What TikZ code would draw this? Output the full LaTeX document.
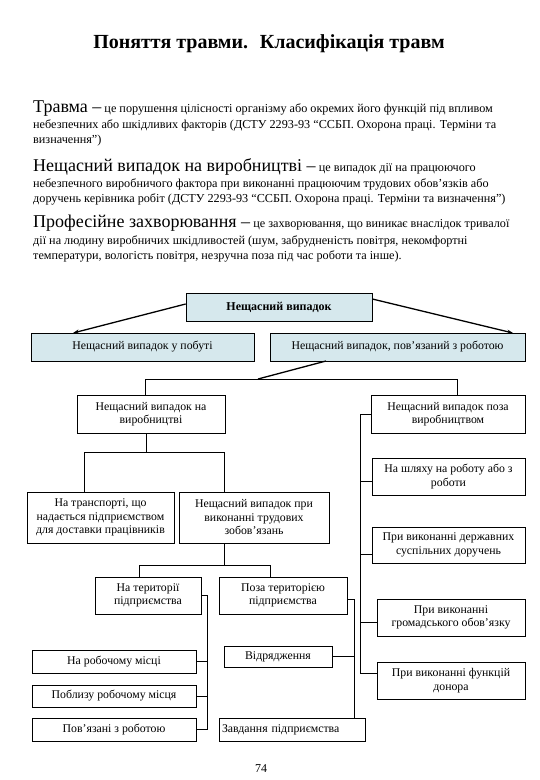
\documentclass[tikz,border=0pt]{standalone}
\usepackage{fontspec}
\setmainfont{Liberation Serif}
\usepackage{xcolor}
\usetikzlibrary{arrows.meta}
\usetikzlibrary{positioning}
\usetikzlibrary{calc}
\definecolor{boxblue}{RGB}{214,232,237}
\newcommand{\bigterm}[1]{{\fontsize{18}{20}\selectfont #1}}

\begin{document}
\begin{tikzpicture}[x=1pt,y=-1pt,>=Stealth,
		box/.style={draw, line width=0.7pt, align=center, inner sep=1pt, font=\fontsize{11.8}{13.5}\selectfont},
		bluebox/.style={box, fill=boxblue},
		conn/.style={line width=0.7pt},
		arr/.style={->, line width=1.3pt, >={Stealth[length=6pt,width=4pt]}},
		bodytext/.style={anchor=base west, inner sep=0pt, font=\fontsize{12.2}{14}\selectfont}]
				\useasboundingbox (0,0) rectangle (540,780);
				
				% title
				\node[anchor=base, inner sep=0pt, font=\fontsize{20}{22}\selectfont\bfseries] (title) at (269,48) {Поняття травми. \ Класифікація травм};
				
				% definitions
				\node[bodytext] (p1a) at (33,112) {\bigterm{Травма –} це порушення цілісності організму або окремих його функцій під впливом};
				\node[bodytext] (p1b) at (33,128) {небезпечних або шкідливих факторів (ДСТУ 2293-93 “ССБП. Охорона праці. Терміни та};
				\node[bodytext] (p1c) at (33,143) {визначення”)};
				\node[bodytext] (p2a) at (33,171) {\bigterm{Нещасний випадок на виробництві –} це випадок дії на працюючого};
				\node[bodytext] (p2b) at (33,187) {небезпечного виробничого фактора при виконанні працюючим трудових обов'язків або};
				\node[bodytext] (p2c) at (33,202) {доручень керівника робіт (ДСТУ 2293-93 “ССБП. Охорона праці. Терміни та визначення”)};
				\node[bodytext] (p3a) at (33,227) {\bigterm{Професійне захворювання –} це захворювання, що виникає внаслідок тривалої};
				\node[bodytext] (p3b) at (33,244) {дії на людину виробничих шкідливостей (шум, забрудненість повітря, некомфортні};
				\node[bodytext] (p3c) at (33,259) {температури, вологість повітря, незручна поза під час роботи та інше).};
				
				% top boxes
				\node[bluebox, minimum width=186pt, minimum height=28pt, font=\fontsize{12}{14}\selectfont\bfseries] (nv) at (279,307) {Нещасний випадок};
				\node[bluebox, minimum width=223pt, minimum height=28pt] (pobut) at (142.5,347) {Нещасний випадок у побуті};
				\node[bluebox, minimum width=255pt, minimum height=28pt] (robota) at (397.5,347) {Нещасний випадок, пов’язаний з роботою};
				\coordinate (pobutin) at (73,333);
				\coordinate (robotain) at (513,333);
				\draw[arr] ([yshift=3pt]nv.west) -- (pobutin);
				\draw[arr] ([yshift=8pt]nv.east) -- (robotain);
				
				% at work / outside work
				\node[box, minimum width=148pt, minimum height=38pt] (vyrob) at (151,414) {Нещасний випадок на\\виробництві};
				\node[box, minimum width=154pt, minimum height=38pt] (pozavyrob) at (448,414) {Нещасний випадок поза\\виробництвом};
				\coordinate (robotaout) at (326,361);
				\coordinate (j1) at (258,379);
				\coordinate (v1) at (145,379);
				\coordinate (v2) at (457,379);
				\draw[line width=1.3pt] (robotaout) -- (j1);
				\draw[conn] (v1 |- vyrob.north) -- (v1) -- (v2) -- (v2 |- pozavyrob.north);
				
				% outside work column
				\node[box, minimum width=153pt, minimum height=37pt] (shlyakh) at (448.5,476.5) {На шляху на роботу або з\\роботи};
				\node[box, minimum width=153pt, minimum height=36pt] (derzh) at (448.5,545) {При виконанні державних\\суспільних доручень};
				\node[box, minimum width=148pt, minimum height=37pt] (hromad) at (451,617.5) {При виконанні\\громадського обов'язку};
				\node[box, minimum width=148pt, minimum height=37pt] (donor) at (451,680.5) {При виконанні функцій\\донора};
				\coordinate (r1) at (360,0);
				\draw[conn] (pozavyrob.west) -- (pozavyrob.west -| r1) -- ([yshift=7.5pt]donor.west -| r1) -- ([yshift=7.5pt]donor.west);
				\foreach \n/\s in {shlyakh/-4.5, derzh/-9, hromad/-4.5}
					\draw[conn] ([yshift=\s pt]\n.west) -- ([yshift=\s pt]\n.west -| r1);
				
				% at work branch
				\node[box, minimum width=147pt, minimum height=51pt] (transport) at (100.5,517.5) {На транспорті, що\\надається підприємством\\для доставки працівників};
				\node[box, minimum width=150pt, minimum height=51pt] (trudovi) at (254,517.5) {Нещасний випадок при\\виконанні трудових\\зобов'язань};
				\coordinate (v3) at (146,452);
				\coordinate (v4) at (84,452);
				\coordinate (v5) at (224,452);
				\draw[conn] (vyrob.south -| v3) -- (v3);
				\draw[conn] (v4 |- transport.north) -- (v4) -- (v5) -- (v5 |- trudovi.north);
				
				% territory
				\node[box, minimum width=106pt, minimum height=37pt] (teryt) at (148,595.5) {На території\\підприємства};
				\node[box, minimum width=128pt, minimum height=37pt] (pozateryt) at (283,595.5) {Поза територією\\підприємства};
				\coordinate (v6) at (224,565);
				\coordinate (v7) at (139,565);
				\coordinate (v8) at (270,565);
				\draw[conn] (trudovi.south -| v6) -- (v6);
				\draw[conn] (v7 |- teryt.north) -- (v7) -- (v8) -- (v8 |- pozateryt.north);
				
				% on the territory
				\node[box, minimum width=164pt, minimum height=23pt] (robmisce) at (114,661.5) {На робочому місці};
				\node[box, minimum width=164pt, minimum height=22pt] (poblyzu) at (114,696) {Поблизу робочому місця};
				\node[box, minimum width=164pt, minimum height=23pt] (povyaz) at (114,729.5) {Пов'язані з роботою};
				\coordinate (t1) at (207,0);
				\draw[conn] (teryt.east) -- (teryt.east -| t1) -- (povyaz.east -| t1) -- (povyaz.east);
				\foreach \n in {robmisce, poblyzu}
					\draw[conn] (\n.east) -- (\n.east -| t1);
				
				% outside the territory
				\node[box, minimum width=108pt, minimum height=21pt] (vidr) at (278,656.5) {Відрядження};
				\node[box, text width=140pt, inner sep=3pt, align=left, minimum height=23pt] (zavd) at (292,729.5) {Завдання підприємства};
				\coordinate (t2) at (354,0);
				\draw[conn] ([yshift=-3.5pt]pozateryt.east) -| (t2 |- zavd.north);
				\draw[conn] (vidr.east) -- (vidr.east -| t2);
				
				% page number
				\node[font=\fontsize{12}{14}\selectfont] (page) at (261,769) {74};
			\end{tikzpicture}
\end{document}
